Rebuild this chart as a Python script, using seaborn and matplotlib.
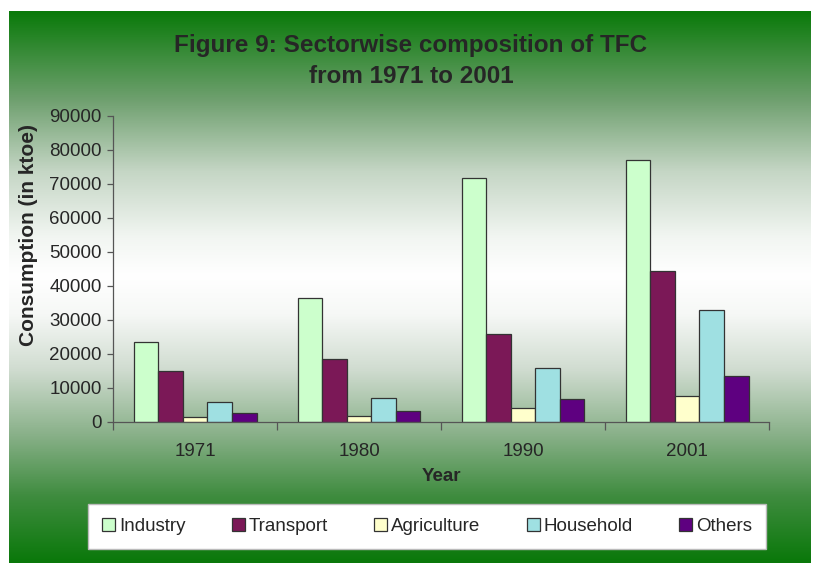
import matplotlib
matplotlib.use("Agg")
import matplotlib.pyplot as plt
from matplotlib.colors import LinearSegmentedColormap
import seaborn as sns
import numpy as np
import pandas as pd

# data (ktoe)
years = ["1971", "1980", "1990", "2001"]
sectors = ["Industry", "Transport", "Agriculture", "Household", "Others"]
industry = [23500, 36600, 71800, 77000]
transport = [14900, 18400, 26000, 44300]
agriculture = [1500, 1900, 4100, 7700]
household = [5900, 7200, 15900, 32800]
others = [2600, 3100, 6900, 13400]

sector_colors = ["#ccffcc", "#7b1857", "#ffffcc", "#9fe0e2", "#5e0080"]

rows = []
for name, vals in zip(sectors, [industry, transport, agriculture, household, others]):
    for yr, v in zip(years, vals):
        rows.append({"Year": yr, "Sector": name, "Consumption": v})
df = pd.DataFrame(rows)

sns.set_theme(style="white")
plt.rcParams["font.family"] = ["Liberation Sans", "DejaVu Sans"]

W, H = 817, 563
fig = plt.figure(figsize=(W / 100, H / 100), dpi=100)
fig.patch.set_facecolor("white")

#  GREEN -> WHITE -> GREEN BACKGROUND (Excel style "from center" fill)
stops = [(0.00, "#0a7a0a"), (0.16, "#6fa06f"), (0.29, "#c5d6c5"), (0.41, "#f2f6f2"),
         (0.48, "#ffffff"), (0.55, "#f6f8f6"), (0.65, "#d0dcd0"), (0.77, "#88b088"),
         (0.88, "#3f8c3f"), (1.00, "#0a780a")]
cmap = LinearSegmentedColormap.from_list("bg", stops)
bg = fig.add_axes([9 / W, 0, (811 - 9) / W, (H - 11) / H], zorder=-1)
bg.imshow(np.linspace(0, 1, 256)[:, None], aspect="auto", cmap=cmap, extent=[0, 1, 0, 1])
bg.set_axis_off()

ax = fig.add_axes([113 / W, 1 - 422 / H, (769 - 113) / W, (422 - 116) / H])
ax.set_facecolor("none")

sns.barplot(
    data=df, x="Year", y="Consumption", hue="Sector",
    palette=sector_colors, width=0.75, edgecolor="#333333", linewidth=0.9,
    saturation=1, ax=ax,
)

ax.set_ylim(0, 90000)
ax.set_xlim(-0.5, 3.5)
ax.set_yticks(np.arange(0, 90001, 10000))
ax.tick_params(axis="y", labelsize=13.5, length=4, width=0.9, color="#555555", pad=4, left=True)
ax.tick_params(axis="x", which="major", labelsize=13.5, length=0, pad=15)
ax.set_xticks(np.arange(-0.5, 4, 1), minor=True)
ax.tick_params(axis="x", which="minor", length=6, width=0.9, color="#555555", bottom=True)
for s in ["top", "right"]:
    ax.spines[s].set_visible(False)
for s in ["left", "bottom"]:
    ax.spines[s].set_color("#555555")
    ax.spines[s].set_linewidth(0.9)

ax.set_xlabel("Year", fontsize=13.5, fontweight="bold", labelpad=6)
ax.set_ylabel("Consumption (in ktoe)", fontsize=15, fontweight="bold")
ax.yaxis.set_label_coords(-0.115, 0.61)

fig.text(411 / W, 1 - 61 / H, "Figure 9: Sectorwise composition of TFC\nfrom 1971 to 2001",
         ha="center", va="center", fontsize=17.5, fontweight="bold", linespacing=1.45)

handles, labels = ax.get_legend_handles_labels()
ax.get_legend().remove()
leg = fig.legend(
    handles, labels, ncol=5, mode="expand", loc="lower left",
    bbox_to_anchor=(88 / W, 1 - 549 / H, (766 - 88) / W, (549 - 501) / H),
    fontsize=13.5, frameon=True, fancybox=False, borderpad=0.75,
    handlelength=0.7, handleheight=0.7, handletextpad=0.2, borderaxespad=0,
)
leg.get_frame().set_facecolor("white")
leg.get_frame().set_edgecolor("#bbbbbb")
leg.get_frame().set_alpha(1)

fig.savefig("out.png", dpi=100)
